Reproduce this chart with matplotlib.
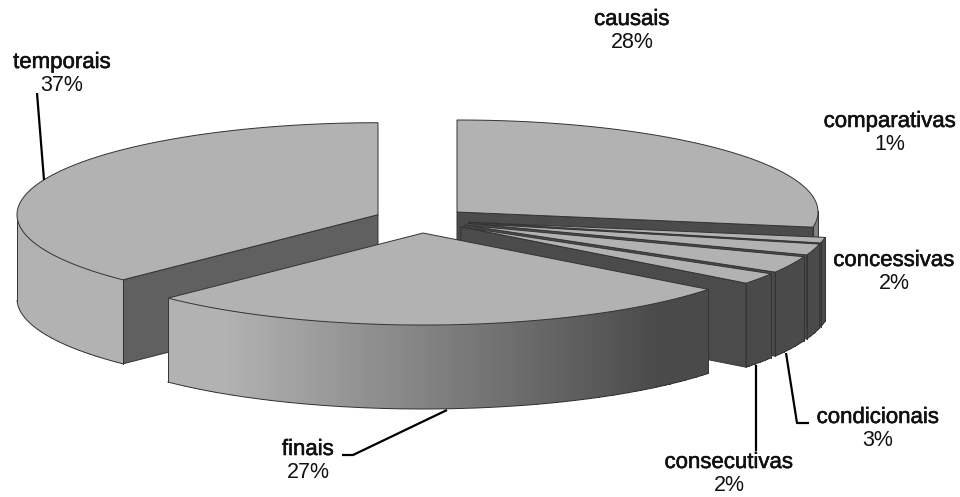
import numpy as np
import matplotlib
matplotlib.use("Agg")
import matplotlib.pyplot as plt
import matplotlib.patheffects as pe

categories = ["causais", "comparativas", "concessivas", "condicionais", "consecutivas", "finais", "temporais"]
percents = [28, 1, 2, 3, 2, 27, 37]
explode = [0.128, 0.135, 0.135, 0.135, 0.135, 0.147, 0.131]
side_floor = [128, 74, 74, 74, 74, 74, 74]

# pie geometry in pixels
CX, CY = 421.4, 219.5
RX, RY = 361, 92
DEPTH = 84
WARP = 2.2  # degrees of perspective foreshortening

TOP_COLOR = "#b2b2b2"
EDGE_COLOR = "#333333"

# label anchors (centre x, name baseline) and leader lines
label_pos = [(632, 25), (890, 127), (894, 266), (878, 423), (729, 468), (308, 455), (62, 68)]
leaders = {
    "condicionais": [(786, 353), (797, 423), (809, 423)],
    "consecutivas": [(756, 365), (756, 451)],
    "finais": [(342, 455), (353, 455), (447, 410)],
    "temporais": [(37, 93), (44, 180)],
}


def project(theta, cx, cy):
    theta = np.asarray(theta, dtype=float)
    t = np.radians(theta - WARP * np.sin(np.radians(theta / 2)) ** 2)
    return cx + RX * np.sin(t), cy - RY * np.cos(t)


def draw_slice(ax, start, end, offset, floor):
    mid = np.radians((start + end) / 2)
    cx = CX + offset * RX * np.sin(mid)
    cy = CY - offset * RY * np.cos(mid)
    thetas = np.linspace(start, end, max(int((end - start) * 2), 2) + 1)
    xs, ys = project(thetas, cx, cy)

    # radial walls that face the viewer
    for angle, facing in [(start, np.sin(np.radians(start)) < 0), (end, np.sin(np.radians(end)) > 0)]:
        if facing:
            ex, ey = project(angle, cx, cy)
            color = "#606060" if angle > 180 else "#4b4b4b"
            ax.fill([cx, ex, ex, cx], [cy, ey, ey + DEPTH, cy + DEPTH],
                    facecolor=color, edgecolor=EDGE_COLOR, linewidth=0.7, zorder=2)

    # outer wall as a mesh so the shading runs smoothly from light to dark
    idx = np.where((thetas >= 90) & (thetas <= 270))[0]
    if len(idx) > 1:
        wx = np.vstack([xs[idx], xs[idx]])
        wy = np.vstack([ys[idx], ys[idx] + DEPTH])
        centre = (thetas[idx][:-1] + thetas[idx][1:]) / 2
        shade = np.clip(128 - 86 * np.sin(np.radians(centre)), floor, 178)
        ax.pcolormesh(wx, wy, shade[np.newaxis, :], cmap="gray", vmin=0, vmax=255,
                      shading="flat", antialiased=False, zorder=2)
        ax.plot(xs[idx], ys[idx] + DEPTH, color=EDGE_COLOR, linewidth=0.7, zorder=2)
        for k in (idx[0], idx[-1]):
            if 90 < thetas[k] < 270:
                ax.plot([xs[k], xs[k]], [ys[k], ys[k] + DEPTH], color=EDGE_COLOR, linewidth=0.7, zorder=2)

    ax.fill(np.r_[cx, xs], np.r_[cy, ys], facecolor=TOP_COLOR, edgecolor=EDGE_COLOR, linewidth=0.7, zorder=2)


fig = plt.figure(figsize=(9.6, 4.97), dpi=100)
ax = fig.add_axes([0, 0, 1, 1])
ax.set_xlim(0, 960)
ax.set_ylim(497, 0)
ax.axis("off")

edges = np.r_[0, np.cumsum(percents)] * 3.6

# back slices first so the front ones cover them
for i in [0, 6, 1, 2, 3, 4, 5]:
    draw_slice(ax, edges[i], edges[i + 1], explode[i], side_floor[i])

heavier = [pe.withStroke(linewidth=0.4, foreground="#111111")]
for name, value, (x, y) in zip(categories, percents, label_pos):
    ax.text(x, y, name, ha="center", va="baseline", fontsize=16, family="Liberation Sans",
            color="#111111", path_effects=heavier, zorder=5)
    ax.text(x, y + 23, str(value) + "%", ha="center", va="baseline", fontsize=15.5,
            family="Liberation Sans", color="#111111", zorder=5)

for points in leaders.values():
    px, py = zip(*points)
    ax.plot(px, py, color="black", linewidth=1.6, solid_capstyle="butt", zorder=4)

fig.savefig("out.png", dpi=100, facecolor="white")
